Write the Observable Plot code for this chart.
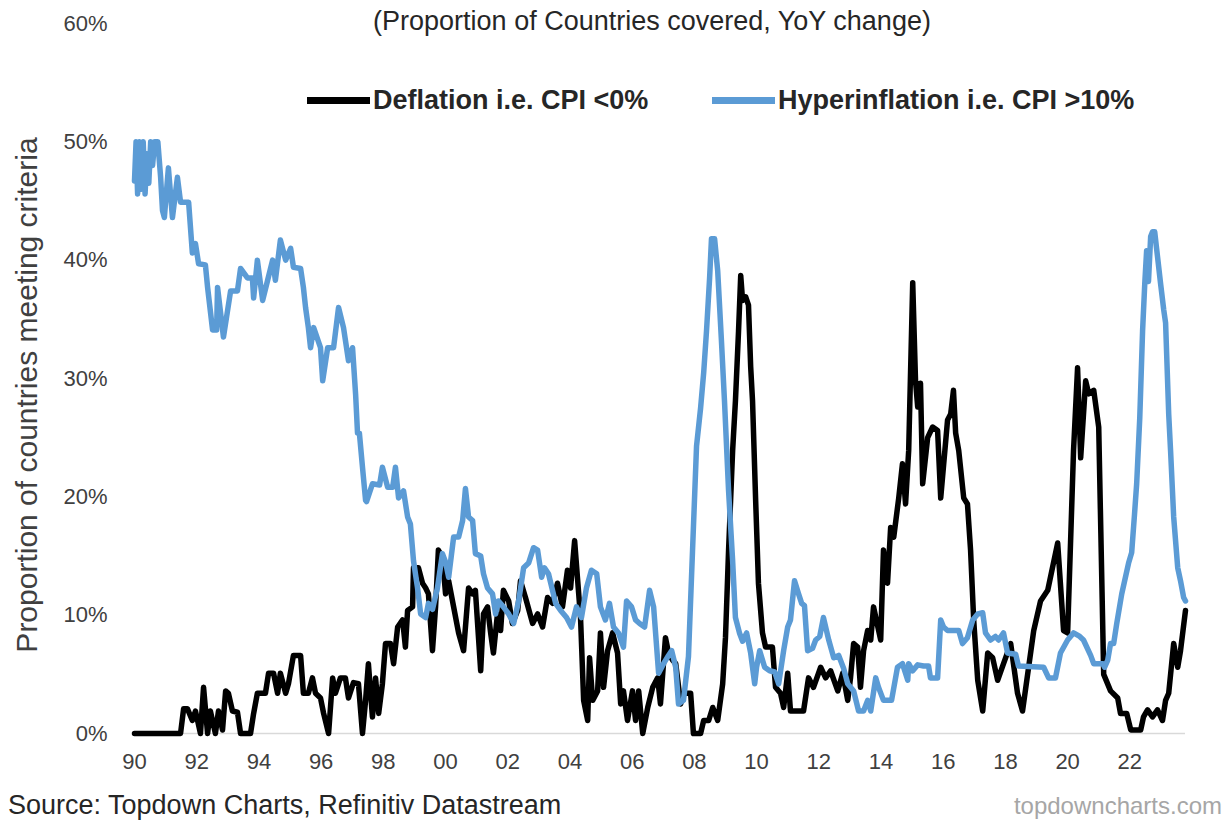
<!DOCTYPE html>
<html>
<head>
<meta charset="utf-8">
<script src="https://cdn.jsdelivr.net/npm/d3@7"></script>
<script src="https://cdn.jsdelivr.net/npm/@observablehq/plot@0.6"></script>
<style>
  html, body { margin: 0; padding: 0; background: #fff; overflow: hidden; }
  #wrap { position: relative; width: 1229px; height: 821px; font-family: "Liberation Sans", Arial, sans-serif; color: #333; }
  #wrap svg { position: absolute; left: 0; top: 0; }
  .abs { position: absolute; white-space: nowrap; line-height: 1; }
  .sw { position: absolute; height: 7px; }
</style>
</head>
<body>
<div id="wrap">
  <div class="abs" style="left:0; width:1304px; text-align:center; top:8px; font-size:27px; color:#262626;">(Proportion of Countries covered, YoY change)</div>
  <div class="sw" style="left:307px; width:63px; top:97px; background:#000;"></div>
  <div class="abs" style="left:373px; top:87px; font-size:27px; font-weight:bold; color:#262626;">Deflation i.e. CPI &lt;0%</div>
  <div class="sw" style="left:712px; width:63px; top:97px; background:#5b9bd5;"></div>
  <div class="abs" style="left:778px; top:87px; font-size:27px; font-weight:bold; color:#262626;">Hyperinflation i.e. CPI &gt;10%</div>
  <div class="abs" style="left:27px; top:395px; font-size:30px; color:#404040; transform: translate(-50%,-50%) rotate(-90deg);">Proportion of countries meeting criteria</div>
  <div class="abs" style="left:8px; top:792px; font-size:27px; color:#262626;">Source: Topdown Charts, Refinitiv Datastream</div>
  <div class="abs" style="right:7px; top:794px; font-size:24px; color:#a6a6a6;">topdowncharts.com</div>
</div>
<script>
// Tick values and labels
const xTickValues = [1990,1992,1994,1996,1998,2000,2002,2004,2006,2008,2010,2012,2014,2016,2018,2020,2022];
const xTickLabels = ["90","92","94","96","98","00","02","04","06","08","10","12","14","16","18","20","22"];
const yTickValues = [0,10,20,30,40,50,60];

// Series: [decimal year, % of countries]
const deflation = [[1990.00,0],[1991.48,0],[1991.58,2.1],[1991.70,2.1],[1991.86,1.1],[1991.96,1.9],[1992.12,0],[1992.22,3.9],[1992.35,0],[1992.44,1.9],[1992.60,0],[1992.70,1.9],[1992.83,0.3],[1992.93,3.6],[1993.02,3.4],[1993.15,1.9],[1993.31,1.8],[1993.41,0],[1993.73,0],[1993.83,1.7],[1993.95,3.4],[1994.21,3.4],[1994.31,5.1],[1994.47,5.1],[1994.60,3.4],[1994.69,5.1],[1994.86,3.4],[1994.95,4.2],[1995.11,6.6],[1995.34,6.6],[1995.43,3.4],[1995.59,3.4],[1995.72,4.7],[1995.82,3.4],[1995.98,3],[1996.08,1.7],[1996.24,0],[1996.37,4.7],[1996.46,3.4],[1996.62,4.7],[1996.78,4.7],[1996.88,3],[1997.04,4.3],[1997.20,4.2],[1997.33,0],[1997.43,2.8],[1997.52,5.9],[1997.65,1.4],[1997.75,4.7],[1997.85,1.7],[1997.97,4.2],[1998.07,7.6],[1998.23,7.6],[1998.33,5.9],[1998.46,9],[1998.62,9.6],[1998.71,7.3],[1998.78,10.4],[1998.94,10.7],[1998.97,14],[1999.13,14],[1999.26,12.7],[1999.36,12.3],[1999.45,11.8],[1999.58,7],[1999.68,10.7],[1999.77,15.5],[1999.90,14.9],[2000.00,11.8],[2000.10,12.9],[2000.26,10.7],[2000.42,8.5],[2000.58,7],[2000.74,12.3],[2000.87,11.8],[2000.96,12.1],[2001.13,5.3],[2001.22,10.1],[2001.35,10.7],[2001.45,8.5],[2001.54,6.8],[2001.67,10.1],[2001.77,8.7],[2001.86,12.1],[2002.03,11.2],[2002.15,9.3],[2002.32,10.4],[2002.41,12.9],[2002.57,11.5],[2002.80,9.3],[2002.96,10.1],[2003.12,9],[2003.28,11.5],[2003.44,11],[2003.60,12.7],[2003.76,10.7],[2003.92,13.8],[2004.02,12.3],[2004.15,16.3],[2004.24,13.2],[2004.34,9.8],[2004.44,2.8],[2004.57,1.1],[2004.63,6.4],[2004.73,2.8],[2004.89,3.6],[2004.98,8.5],[2005.08,3.9],[2005.21,7],[2005.37,8.5],[2005.53,6.8],[2005.63,2.5],[2005.72,3.6],[2005.85,1.1],[2006.01,3.6],[2006.11,1.1],[2006.21,3.6],[2006.34,0],[2006.50,2.2],[2006.66,3.9],[2006.82,4.7],[2006.91,2.5],[2007.07,8.1],[2007.17,6.8],[2007.30,6.2],[2007.40,5.9],[2007.56,2.5],[2007.65,3.4],[2007.88,3.4],[2007.97,0],[2008.20,0],[2008.30,1.1],[2008.46,1.1],[2008.59,2.2],[2008.75,1.1],[2008.91,4.2],[2009.00,8.1],[2009.10,15.5],[2009.23,23.9],[2009.32,28.1],[2009.42,34],[2009.49,38.7],[2009.55,36.6],[2009.65,36.9],[2009.74,36.2],[2009.81,31],[2009.87,28.1],[2009.97,19.7],[2010.06,12.7],[2010.19,8.5],[2010.29,7.3],[2010.51,7.3],[2010.61,3.9],[2010.77,3.4],[2010.87,2.2],[2011.00,5.1],[2011.09,1.9],[2011.51,1.9],[2011.67,4.7],[2011.83,3.9],[2012.06,5.6],[2012.22,4.7],[2012.38,5.3],[2012.61,3.6],[2012.77,5.1],[2012.93,2.8],[2013.02,4.7],[2013.12,7.6],[2013.25,7.3],[2013.34,3.9],[2013.44,7],[2013.57,8.7],[2013.67,7.9],[2013.76,10.7],[2013.99,7.9],[2014.08,15.5],[2014.21,12.7],[2014.31,17.4],[2014.41,16.6],[2014.57,19.9],[2014.69,22.8],[2014.79,19.4],[2014.89,23.9],[2015.02,38.1],[2015.11,29.8],[2015.18,27.6],[2015.27,29.6],[2015.34,21.1],[2015.50,25],[2015.66,25.9],[2015.82,25.6],[2015.92,19.9],[2016.14,26.5],[2016.24,27],[2016.33,29],[2016.40,25.4],[2016.50,23.9],[2016.66,19.9],[2016.78,19.4],[2016.88,15.5],[2016.98,9.6],[2017.11,4.5],[2017.27,1.9],[2017.43,6.8],[2017.59,6.4],[2017.75,4.5],[2017.94,5.9],[2018.17,7.6],[2018.39,3.4],[2018.55,1.9],[2018.91,8.7],[2019.13,11.2],[2019.36,12.1],[2019.68,16.1],[2019.87,8.7],[2020.00,8.5],[2020.19,23.9],[2020.32,30.9],[2020.42,23.3],[2020.58,29.8],[2020.68,28.7],[2020.84,29],[2021.00,25.9],[2021.16,5],[2021.38,3.6],[2021.61,3],[2021.70,1.7],[2021.90,1.7],[2022.03,0.3],[2022.35,0.3],[2022.44,1.4],[2022.57,2],[2022.73,1.4],[2022.89,2],[2023.05,1.1],[2023.15,2.8],[2023.25,3.4],[2023.41,7.6],[2023.54,5.6],[2023.63,7],[2023.79,10.4]];

const hyperinflation = [[1990.00,46.7],[1990.05,50],[1990.10,45.6],[1990.16,50],[1990.22,46],[1990.28,50],[1990.34,45.6],[1990.40,49],[1990.46,46.5],[1990.52,50],[1990.58,48],[1990.65,50],[1990.75,50],[1990.84,47],[1990.90,44.2],[1990.96,43.6],[1991.09,47.8],[1991.22,43.6],[1991.38,47],[1991.48,44.9],[1991.74,44.9],[1991.86,40.6],[1991.96,41.4],[1992.06,39.7],[1992.28,39.6],[1992.35,37.7],[1992.51,34.1],[1992.64,34.1],[1992.67,37.7],[1992.86,33.5],[1993.09,37.4],[1993.31,37.4],[1993.41,39.3],[1993.63,38.5],[1993.79,38.5],[1993.83,36.8],[1993.95,40],[1994.12,36.6],[1994.28,38.3],[1994.44,40],[1994.53,38.3],[1994.69,41.7],[1994.86,40],[1995.02,41],[1995.11,39.4],[1995.34,39.3],[1995.43,37.7],[1995.50,36],[1995.59,34.3],[1995.66,32.6],[1995.76,34.3],[1995.98,32.6],[1996.05,29.8],[1996.21,32.6],[1996.40,32.6],[1996.56,36],[1996.72,34.3],[1996.88,31.5],[1997.01,32.6],[1997.11,28.6],[1997.17,25.4],[1997.23,25.4],[1997.33,22.5],[1997.43,19.7],[1997.46,19.6],[1997.65,21.1],[1997.88,21],[1997.97,22.5],[1998.14,20.8],[1998.30,20.8],[1998.39,22.5],[1998.49,19.9],[1998.65,20.5],[1998.78,18.3],[1998.87,17.7],[1998.97,14.6],[1999.10,12.3],[1999.20,10.1],[1999.36,9.8],[1999.45,11],[1999.58,10.5],[1999.74,12.3],[1999.90,15.2],[2000.00,14.5],[2000.10,13.2],[2000.26,16.6],[2000.42,16.6],[2000.55,18],[2000.64,20.7],[2000.74,18.3],[2000.87,18],[2000.96,15.2],[2001.13,15],[2001.22,13.5],[2001.35,12.3],[2001.51,11.8],[2001.61,10.1],[2001.70,11.2],[2001.86,10.7],[2002.03,10.1],[2002.19,9.3],[2002.35,11.2],[2002.51,14],[2002.67,14.4],[2002.83,15.7],[2002.96,15.5],[2003.09,13.2],[2003.18,14],[2003.31,13.5],[2003.54,11],[2003.70,10.4],[2003.89,9.8],[2004.05,9],[2004.21,10.7],[2004.37,9.8],[2004.53,12.3],[2004.69,13.8],[2004.86,13.5],[2004.98,10.7],[2005.14,9.6],[2005.27,11],[2005.40,9],[2005.56,8.5],[2005.72,7.3],[2005.82,11.2],[2005.98,10.7],[2006.11,9.6],[2006.24,9.3],[2006.40,9],[2006.56,12.1],[2006.69,10.7],[2006.85,5.1],[2007.01,5.9],[2007.17,6.6],[2007.27,7],[2007.40,5.6],[2007.49,2.5],[2007.65,2.8],[2007.81,6.5],[2007.94,15.4],[2008.07,24.3],[2008.20,27.5],[2008.30,30.5],[2008.39,34],[2008.49,38.5],[2008.55,41.8],[2008.65,41.8],[2008.75,39.1],[2008.87,33.2],[2008.97,28],[2009.10,20.5],[2009.23,14.6],[2009.32,9.8],[2009.45,8.5],[2009.55,7.8],[2009.68,8.5],[2009.81,6.8],[2009.94,4.2],[2010.00,5.6],[2010.10,7],[2010.26,5.6],[2010.42,5.3],[2010.58,5.2],[2010.71,4.2],[2010.87,7],[2011.00,9],[2011.09,9.6],[2011.22,12.9],[2011.35,11.8],[2011.45,11],[2011.54,10.8],[2011.64,7],[2011.80,7.2],[2011.90,7.9],[2012.03,8.2],[2012.15,9.8],[2012.32,7.9],[2012.48,6.4],[2012.64,6.6],[2012.80,5.5],[2012.93,4.2],[2013.12,3.6],[2013.28,1.9],[2013.44,1.9],[2013.57,2.8],[2013.67,1.9],[2013.83,4.7],[2013.92,3.9],[2014.08,2.8],[2014.34,2.8],[2014.53,5.6],[2014.69,5.9],[2014.86,4.5],[2014.89,5.9],[2015.02,5.3],[2015.18,5.8],[2015.37,5.7],[2015.53,5.7],[2015.59,4.7],[2015.82,4.7],[2015.92,9.6],[2016.01,9],[2016.14,8.7],[2016.50,8.7],[2016.62,7.6],[2016.78,8.1],[2016.95,9.6],[2017.11,10.1],[2017.27,10.2],[2017.36,8.5],[2017.52,7.9],[2017.68,8.2],[2017.78,7.9],[2017.94,8.5],[2018.07,6.8],[2018.33,6.7],[2018.42,5.7],[2019.23,5.6],[2019.39,4.7],[2019.61,4.7],[2019.77,6.8],[2020.00,7.9],[2020.19,8.5],[2020.39,8.2],[2020.51,7.9],[2020.74,6.6],[2020.84,5.9],[2021.13,5.9],[2021.19,5.6],[2021.29,6.2],[2021.38,7.6],[2021.48,7.6],[2021.58,9.3],[2021.74,11.8],[2021.96,14.4],[2022.06,15.3],[2022.15,18.5],[2022.22,21.1],[2022.32,26.7],[2022.41,34],[2022.48,38],[2022.54,40.8],[2022.60,38.2],[2022.67,42],[2022.73,42.4],[2022.80,42.4],[2022.86,41],[2022.99,38],[2023.09,35.8],[2023.15,34.7],[2023.25,27],[2023.31,23.9],[2023.41,18.3],[2023.54,14],[2023.63,12.9],[2023.73,11.5],[2023.79,11.2]];

const lastYear = 2023.79;

const chart = Plot.plot({
  width: 1229,
  height: 821,
  marginLeft: 134,
  marginRight: 44,
  marginTop: 23,
  marginBottom: 88,
  style: {
    fontFamily: "'Liberation Sans', Arial, sans-serif",
    fontSize: "22px",
    color: "#404040",
    background: "transparent",
    overflow: "visible"
  },
  x: {
    type: "linear",
    domain: [1990, lastYear],
    ticks: xTickValues,
    tickFormat: d => xTickLabels[xTickValues.indexOf(d)],
    tickSize: 0,
    tickPadding: 20,
    label: null
  },
  y: {
    domain: [0, 60],
    ticks: yTickValues,
    tickFormat: d => d + "%",
    tickSize: 0,
    tickPadding: 27,
    label: null
  },
  marks: [
    Plot.ruleY([0], {stroke: "#d9d9d9", strokeWidth: 1.5}),
    Plot.line(deflation, {x: d => d[0], y: d => d[1], stroke: "#000000", strokeWidth: 5.5, strokeLinejoin: "round", strokeLinecap: "round"}),
    Plot.line(hyperinflation, {x: d => d[0], y: d => d[1], stroke: "#5b9bd5", strokeWidth: 5.5, strokeLinejoin: "round", strokeLinecap: "round"})
  ]
});

document.getElementById("wrap").prepend(chart);
</script>
</body>
</html>
